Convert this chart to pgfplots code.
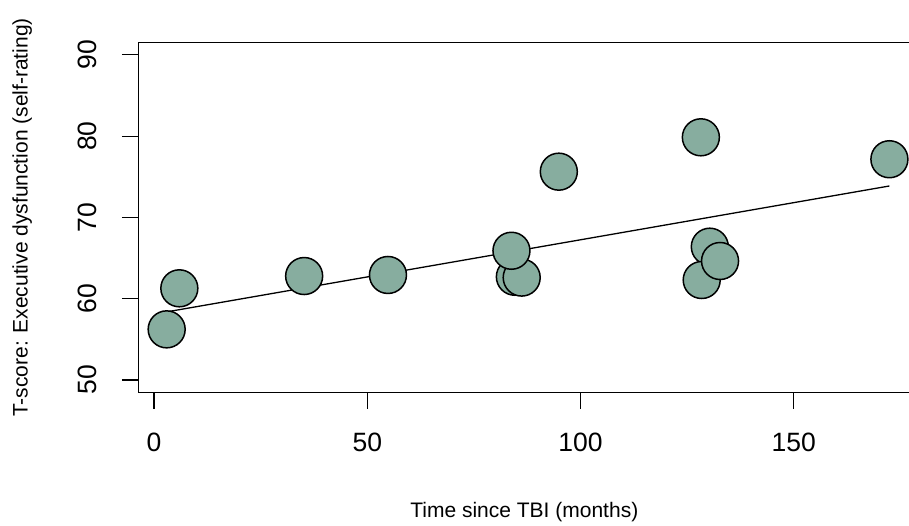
\documentclass[border=0pt]{standalone}
\usepackage{fontspec}
\setmainfont{Liberation Sans}
\usepackage{pgfplots}
\pgfplotsset{compat=1.18}
\definecolor{ptfill}{RGB}{135,173,159}
\begin{document}
\begin{tikzpicture}
\useasboundingbox (-138.3pt,-133.5pt) rectangle (770.7pt,392.5pt);
\begin{axis}[
 at={(0,0)}, anchor=south west,
 scale only axis, width=772pt, height=349.8pt,
 xmin=-3.68, xmax=177.3, ymin=48.46, ymax=91.5,
 xtick={0,50,100,150}, ytick={50,60,70,80,90},
 tick pos=left, tick align=outside, major tick length=16.5pt,
 every tick/.style={black, line width=1.2pt},
 axis line style={line width=1.5pt},
 /pgf/number format/assume math mode=true,
 tick label style={font=\fontsize{26.5}{30}\selectfont},
 yticklabel style={rotate=90, anchor=south, inner sep=0pt},
 xticklabel style={anchor=north, inner sep=0pt},
 yticklabel shift=24.5pt,
 xticklabel shift=24pt,
 xlabel={Time since TBI (months)},
 ylabel={T-score: Executive dysfunction (self-rating)},
 label style={font=\fontsize{21}{25}\selectfont},
 x label style={at={(axis description cs:0.5,0)}, anchor=center, yshift=-119.2pt},
 y label style={at={(axis description cs:0,0.5)}, anchor=center, yshift=116pt},
]
\addplot[black, line width=1.3pt] coordinates {(2.97,58.38) (172.4,73.87)};
\addplot[only marks, mark=*, mark size=18.5pt, mark options={fill=ptfill, draw=black, line width=1.5pt}] coordinates {
(2.97,56.23) (5.94,61.28) (35.2,62.79) (54.85,62.92) (84.6,62.7) (86.2,62.6) (83.8,65.9) (94.9,75.63) (128.2,79.86) (130.3,66.4) (128.4,62.3) (132.7,64.64) (172.4,77.16)
};
\end{axis}
\end{tikzpicture}
\end{document}
